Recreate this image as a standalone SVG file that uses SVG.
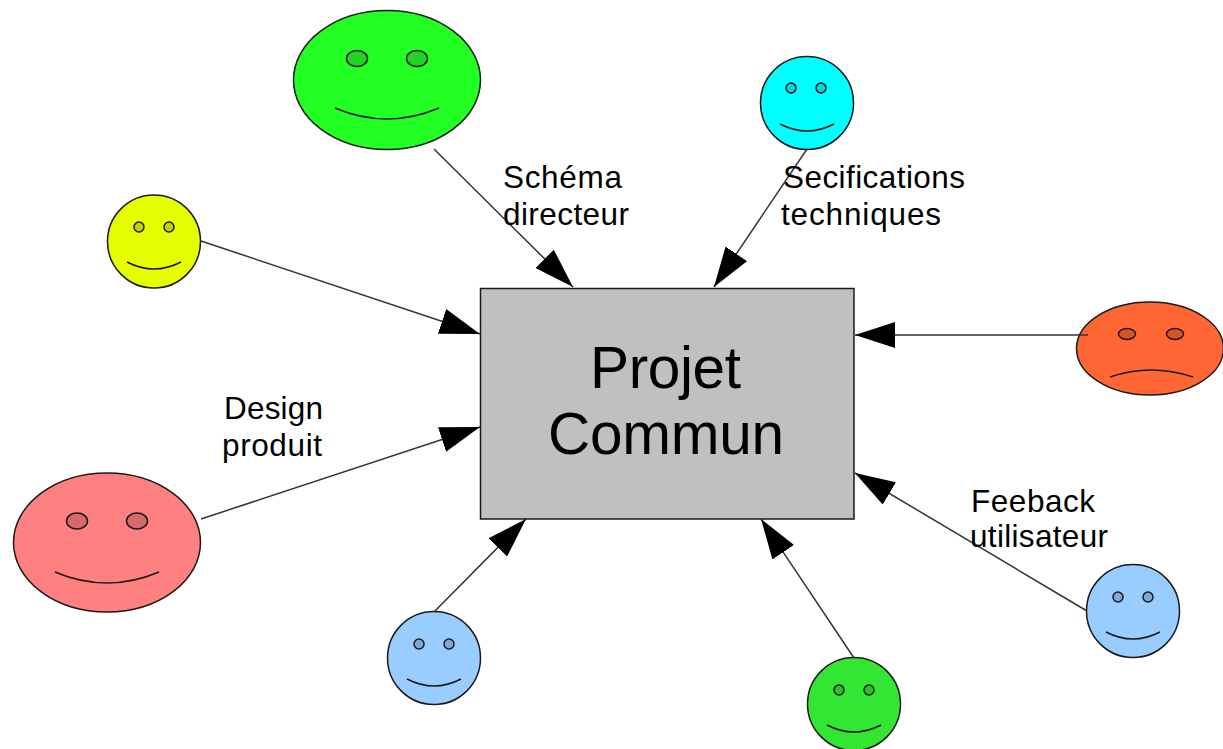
<svg xmlns="http://www.w3.org/2000/svg" width="1223" height="749" viewBox="0 0 1223 749">
<style>
.f{stroke:#1a1a1a;stroke-width:1.5}
.e{stroke:#1a1a1a;stroke-width:1.5;fill-opacity:.85}
.m{fill:none;stroke:#1a1a1a;stroke-width:1.5}
.c{stroke:#333;stroke-width:1.5;fill:none;marker-end:url(#a)}
text{font-family:"Liberation Sans",Arial,sans-serif;fill:#000}
.l{font-size:31.500px}
.t{font-size:58.500px}
</style>
<defs>
<marker id="a" markerUnits="userSpaceOnUse" viewBox="0 0 40 26" markerWidth="40" markerHeight="26" refX="40" refY="13" orient="auto"><path d="M0 0L40 13L0 26Z" fill="#000"/></marker>
</defs>
<rect width="1223" height="749" fill="#fff"/>
<g id="projet">
<rect x="480.5" y="288.5" width="373.5" height="230.500" fill="#c0c0c0" stroke="#1a1a1a" stroke-width="1.5"/>
<text class="t" x="590" y="388" textLength="151">Projet</text>
<text class="t" x="548" y="454" textLength="236">Commun</text>
</g>
<g id="face-green-large">
<ellipse class="f" cx="387" cy="80" rx="93.500" ry="69.500" fill="#22ff22"/>
<ellipse class="e" cx="357" cy="58.500" rx="10.500" ry="8" fill="#22cc22"/>
<ellipse class="e" cx="417" cy="58.500" rx="10.500" ry="8" fill="#22cc22"/>
<path class="m" d="M335 108Q387 130 439 108"/>
</g>
<g id="face-cyan">
<circle class="f" cx="807" cy="103" r="46.500" fill="#00ffff"/>
<circle class="e" cx="791" cy="88" r="5" fill="#00cccc"/>
<circle class="e" cx="821" cy="88" r="5" fill="#00cccc"/>
<path class="m" d="M780 124Q807 138 834 124"/>
</g>
<g id="face-yellow">
<circle class="f" cx="154" cy="241.500" r="46.500" fill="#e6ff00"/>
<circle class="e" cx="139" cy="227" r="5" fill="#b8cc00"/>
<circle class="e" cx="169" cy="227" r="5" fill="#b8cc00"/>
<path class="m" d="M127 262Q154 276 181 262"/>
</g>
<g id="face-orange">
<ellipse class="f" cx="1150" cy="348.500" rx="73.500" ry="46.500" fill="#ff6633"/>
<ellipse class="e" cx="1127" cy="334" rx="8.500" ry="5.500" fill="#cc5229"/>
<ellipse class="e" cx="1175" cy="334" rx="8.500" ry="5.500" fill="#cc5229"/>
<path class="m" d="M1110 377Q1151 363 1193 377"/>
</g>
<g id="face-pink">
<ellipse class="f" cx="107" cy="542.500" rx="93.500" ry="69.500" fill="#ff8080"/>
<ellipse class="e" cx="77" cy="521" rx="10.500" ry="8" fill="#cc6666"/>
<ellipse class="e" cx="137" cy="521" rx="10.500" ry="8" fill="#cc6666"/>
<path class="m" d="M55 572Q107 594 159 572"/>
</g>
<g id="face-blue-left">
<circle class="f" cx="434" cy="658" r="46.500" fill="#99ccff"/>
<circle class="e" cx="419" cy="644" r="5" fill="#7aa3cc"/>
<circle class="e" cx="449" cy="644" r="5" fill="#7aa3cc"/>
<path class="m" d="M407 679Q434 693 461 679"/>
</g>
<g id="face-green-small">
<circle class="f" cx="854" cy="704" r="46.500" fill="#33e633"/>
<circle class="e" cx="839" cy="690" r="5" fill="#29b829"/>
<circle class="e" cx="869" cy="690" r="5" fill="#29b829"/>
<path class="m" d="M827 725Q854 739 881 725"/>
</g>
<g id="face-blue-right">
<circle class="f" cx="1133" cy="611" r="46.500" fill="#99ccff"/>
<circle class="e" cx="1118" cy="597" r="5" fill="#7aa3cc"/>
<circle class="e" cx="1148" cy="597" r="5" fill="#7aa3cc"/>
<path class="m" d="M1106 632Q1133 646 1160 632"/>
</g>
<g id="connectors">
<line class="c" x1="434" y1="149" x2="573" y2="287"/>
<line class="c" x1="807" y1="149" x2="714" y2="287"/>
<line class="c" x1="201" y1="241" x2="480" y2="334"/>
<line class="c" x1="1088" y1="335" x2="855" y2="335"/>
<line class="c" x1="201" y1="519" x2="480" y2="427"/>
<line class="c" x1="434" y1="612" x2="526" y2="519"/>
<line class="c" x1="854" y1="658" x2="761" y2="519"/>
<line class="c" x1="1087" y1="611" x2="855" y2="473"/>
</g>
<g id="labels">
<text class="l" x="503" y="188" textLength="119">Schéma</text>
<text class="l" x="503" y="225" textLength="126">directeur</text>
<text class="l" x="783" y="188" textLength="182">Secifications</text>
<text class="l" x="781" y="225" textLength="160">techniques</text>
<text class="l" x="224" y="419" textLength="99">Design</text>
<text class="l" x="222" y="456" textLength="100">produit</text>
<text class="l" x="971" y="512" textLength="124">Feeback</text>
<text class="l" x="970" y="547" textLength="138">utilisateur</text>
</g>
</svg>
